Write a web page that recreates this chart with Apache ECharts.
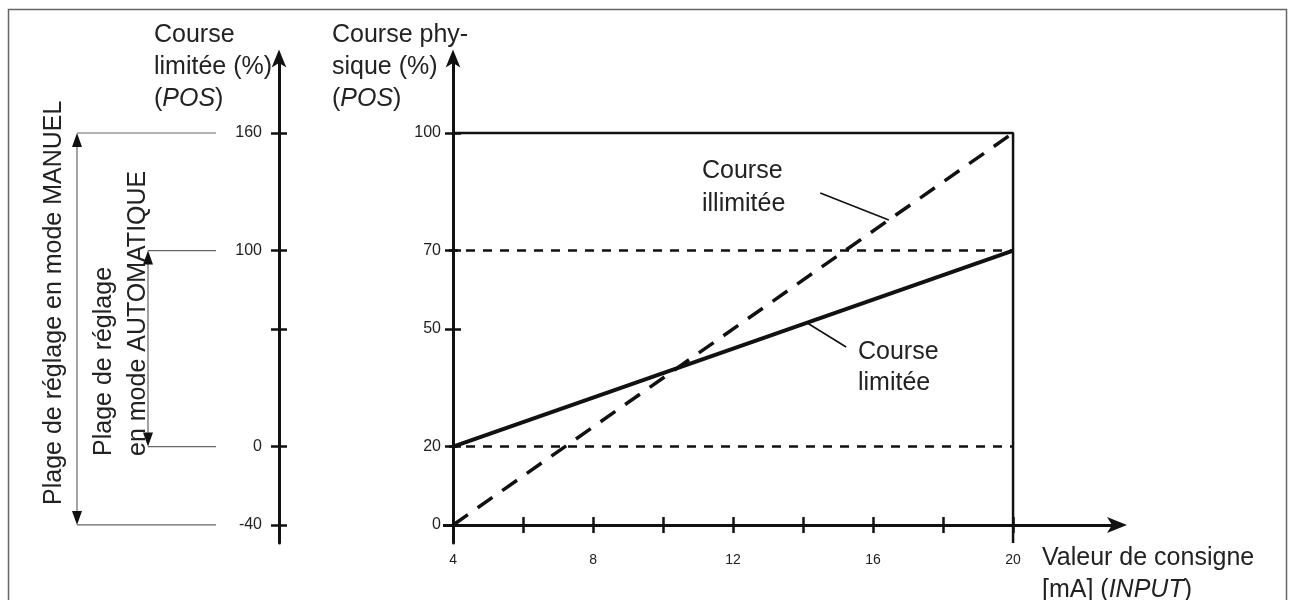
<!DOCTYPE html>
<html>
<head>
<meta charset="utf-8">
<script src="https://cdn.jsdelivr.net/npm/echarts@6/dist/echarts.min.js"></script>
<style>
  html, body { margin: 0; padding: 0; background: #fff; }
  #chart { width: 1292px; height: 600px; }
</style>
</head>
<body>
<div id="chart"></div>
<script>
// Setpoint current (mA) at both ends of the input range
const setpointMA = [4, 20];
// Physical stroke (%) reached at those setpoints
const courseLimitee = [20, 70];
const courseIllimitee = [0, 100];
// Full physical stroke (%)
const fullStroke = 100;
// Lower / upper limit of the limited stroke, on the physical scale (%)
const limitLevels = [20, 70];
// Adjustment ranges on the limited-stroke scale (%)
const rangeManuel = [-40, 160];
const rangeAuto = [0, 100];
// Ticks and labels
const xTickValues = [4, 6, 8, 10, 12, 14, 16, 18, 20];
const xLabelValues = [4, 8, 12, 16, 20];
const physTickValues = [0, 20, 50, 70, 100];
const limTickValues = [-40, 0, 60, 100, 160];
const limLabelValues = [-40, 0, 100, 160];
// Leader lines of the two curve captions (mA, physical %)
const leaderIllimitee = [[14.49, 84.7], [16.45, 77.8]];
const leaderLimitee = [[14.11, 51.6], [15.23, 45.4]];

// Axis extents (the axis lines run a little past the data)
const X_MIN = 3.54, X_MAX = 22.97;
const PHYS_MIN = -4.6, PHYS_MAX = 119;
// limited % = k * (physical % - lower limit)
const K = (rangeAuto[1] - rangeAuto[0]) / (limitLevels[1] - limitLevels[0]);
const LIM_MIN = rangeAuto[0] + K * (PHYS_MIN - limitLevels[0]);
const LIM_MAX = rangeAuto[0] + K * (PHYS_MAX - limitLevels[0]);

const INK = '#111';
const TXT = '#222';
const GREY = '#666';
const FONT = '"Liberation Sans", Arial, Helvetica, sans-serif';

const PHYS_OFFSET = -16;   // physical axis sits on x = 4 mA
const LIM_OFFSET = 158;    // limited-stroke axis, further left

function yAxisPair(min, max, offset, ticks, labels, margin, labelBg) {
  const common = {
    type: 'value', min: min, max: max, position: 'left', offset: offset,
    splitLine: { show: false }, z: 5
  };
  return [
    Object.assign({}, common, {
      axisLine: { show: true, onZero: false, symbol: ['none', 'arrow'], symbolSize: [11, 18],
                  symbolOffset: [0, 9], lineStyle: { color: INK, width: 3 } },
      axisTick: { show: true, length: 8, customValues: ticks, lineStyle: { color: INK, width: 2.5 } },
      axisLabel: { show: true, customValues: labels, margin: margin, fontSize: 16, color: TXT, fontFamily: FONT,
                   backgroundColor: labelBg ? '#fff' : 'transparent', padding: labelBg ? [1, 2, 1, 12] : 0 }
    }),
    Object.assign({}, common, {
      axisLine: { show: false, onZero: false },
      axisTick: { show: true, inside: true, length: 8, customValues: ticks, lineStyle: { color: INK, width: 2.5 } },
      axisLabel: { show: false }
    })
  ];
}

const physAxes = yAxisPair(PHYS_MIN, PHYS_MAX, PHYS_OFFSET, physTickValues, physTickValues, 10, true);
const limAxes = yAxisPair(LIM_MIN, LIM_MAX, LIM_OFFSET, limTickValues, limLabelValues, 17, false);

const xCommon = { type: 'value', min: X_MIN, max: X_MAX, position: 'bottom', splitLine: { show: false }, z: 5 };

const chart = echarts.init(document.getElementById('chart'), null, { renderer: 'canvas' });

function pairs(xs, ys) { return xs.map((x, i) => [x, ys[i]]); }

const baseOption = {
  animation: false,
  backgroundColor: '#fff',
  grid: { left: 437, right: 175, top: 58.5, bottom: 57, containLabel: false, outerBoundsMode: 'none' },
  xAxis: [
    Object.assign({}, xCommon, {
      axisLine: { show: true, onZero: true, onZeroAxisIndex: 0, symbol: ['none', 'arrow'], symbolSize: [12, 20],
                  symbolOffset: [0, 10], lineStyle: { color: INK, width: 3 } },
      axisTick: { show: true, length: 8, customValues: xTickValues, lineStyle: { color: INK, width: 2.5 } },
      axisLabel: { show: true, customValues: xLabelValues, margin: 10, fontSize: 14, color: TXT, fontFamily: FONT }
    }),
    Object.assign({}, xCommon, {
      axisLine: { show: false, onZero: true, onZeroAxisIndex: 0 },
      axisTick: { show: true, inside: true, length: 8, customValues: xTickValues, lineStyle: { color: INK, width: 2.5 } },
      axisLabel: { show: false }
    })
  ],
  yAxis: [physAxes[0], limAxes[0], physAxes[1], limAxes[1]],
  series: []
};
chart.setOption(baseOption);

// Position of the limited-stroke axis, expressed on the mA scale
const gridLeftPx = chart.convertToPixel({ xAxisIndex: 0 }, X_MIN);
const limAxisPx = gridLeftPx - LIM_OFFSET;
const limAxisX = chart.convertFromPixel({ xAxisIndex: 0 }, limAxisPx);

function lineSeries(data, style, extra) {
  return Object.assign({
    type: 'line', xAxisIndex: 0, yAxisIndex: 0, data: data, z: 1,
    showSymbol: false, symbol: 'none', silent: true, clip: false,
    lineStyle: Object.assign({ color: INK, width: 2.5, type: 'solid', cap: 'butt' }, style)
  }, extra || {});
}

const series = [];
// Frame of the full physical stroke
series.push(lineSeries([[setpointMA[0], fullStroke], [setpointMA[1], fullStroke], [setpointMA[1], PHYS_MIN]],
  { width: 2.5 }));
// Limits of the limited stroke
limitLevels.forEach(lvl => {
  series.push(lineSeries([[limAxisX, lvl], [setpointMA[1], lvl]], { width: 2.5, type: [9, 8] }));
});
// Unlimited stroke
series.push(lineSeries(pairs(setpointMA, courseIllimitee), { width: 3.5, type: [18, 12] }, { name: 'Course illimitée' }));
// Limited stroke
series.push(lineSeries(pairs(setpointMA, courseLimitee), { width: 4 }, { name: 'Course limitée' }));
// Caption leaders
series.push(lineSeries(leaderIllimitee, { width: 1.6 }));
series.push(lineSeries(leaderLimitee, { width: 1.6 }));

// Adjustment range markers on the left, on the limited-stroke scale
const yLim = v => chart.convertToPixel({ yAxisIndex: 1 }, v);
const MAN_X = 77, AUTO_X = 148, GUIDE_END = 216;
const ARW_W = 5, ARW_H = 14;

function hLine(x1, x2, y) {
  return { type: 'line', shape: { x1: x1, y1: y, x2: x2, y2: y }, style: { stroke: GREY, lineWidth: 1.2 }, silent: true };
}
function rangeArrow(x, yTop, yBot) {
  return [
    { type: 'line', shape: { x1: x, y1: yTop + 4, x2: x, y2: yBot - 4 }, style: { stroke: GREY, lineWidth: 1.2 }, silent: true },
    { type: 'polygon', shape: { points: [[x, yTop], [x - ARW_W, yTop + ARW_H], [x + ARW_W, yTop + ARW_H]] }, style: { fill: INK }, silent: true },
    { type: 'polygon', shape: { points: [[x, yBot], [x - ARW_W, yBot - ARW_H], [x + ARW_W, yBot - ARW_H]] }, style: { fill: INK }, silent: true }
  ];
}

const rich = { i: { fontStyle: 'italic', fontSize: 25, fontFamily: FONT, fill: TXT } };
function txt(x, y, text, extra, styleExtra) {
  return Object.assign({
    type: 'text', x: x, y: y, silent: true,
    style: Object.assign({ text: text, fontSize: 25, fontFamily: FONT, fill: TXT, lineHeight: 32,
                           align: 'left', verticalAlign: 'top', rich: rich }, styleExtra || {})
  }, extra || {});
}

const graphics = [
  { type: 'rect', shape: { x: 8.5, y: 9.5, width: 1278, height: 700 }, style: { fill: 'none', stroke: GREY, lineWidth: 1.5 }, silent: true },
  hLine(MAN_X, GUIDE_END, yLim(rangeManuel[1])),
  hLine(MAN_X, GUIDE_END, yLim(rangeManuel[0])),
  hLine(AUTO_X, GUIDE_END, yLim(rangeAuto[1])),
  hLine(AUTO_X, GUIDE_END, yLim(rangeAuto[0]))
]
  .concat(rangeArrow(MAN_X, yLim(rangeManuel[1]), yLim(rangeManuel[0])))
  .concat(rangeArrow(AUTO_X, yLim(rangeAuto[1]), yLim(rangeAuto[0])))
  .concat([
    txt(154, 19, 'Course\nlimitée (%)\n({i|POS})'),
    txt(332, 19, 'Course phy-\nsique (%)\n({i|POS})'),
    txt(1042, 542, 'Valeur de consigne\n[mA] ({i|INPUT})'),
    txt(702, 155, 'Course\nillimitée', null, { lineHeight: 33 }),
    txt(858, 337, 'Course\nlimitée', null, { lineHeight: 31 }),
    txt(54, 505, 'Plage de réglage en mode MANUEL', { rotation: Math.PI / 2 }, { verticalAlign: 'middle' }),
    txt(104, 456, 'Plage de réglage', { rotation: Math.PI / 2 }, { verticalAlign: 'middle' }),
    txt(138, 456, 'en mode AUTOMATIQUE', { rotation: Math.PI / 2 }, { verticalAlign: 'middle' })
  ]);

chart.setOption({ series: series, graphic: { elements: graphics } });
</script>
</body>
</html>
